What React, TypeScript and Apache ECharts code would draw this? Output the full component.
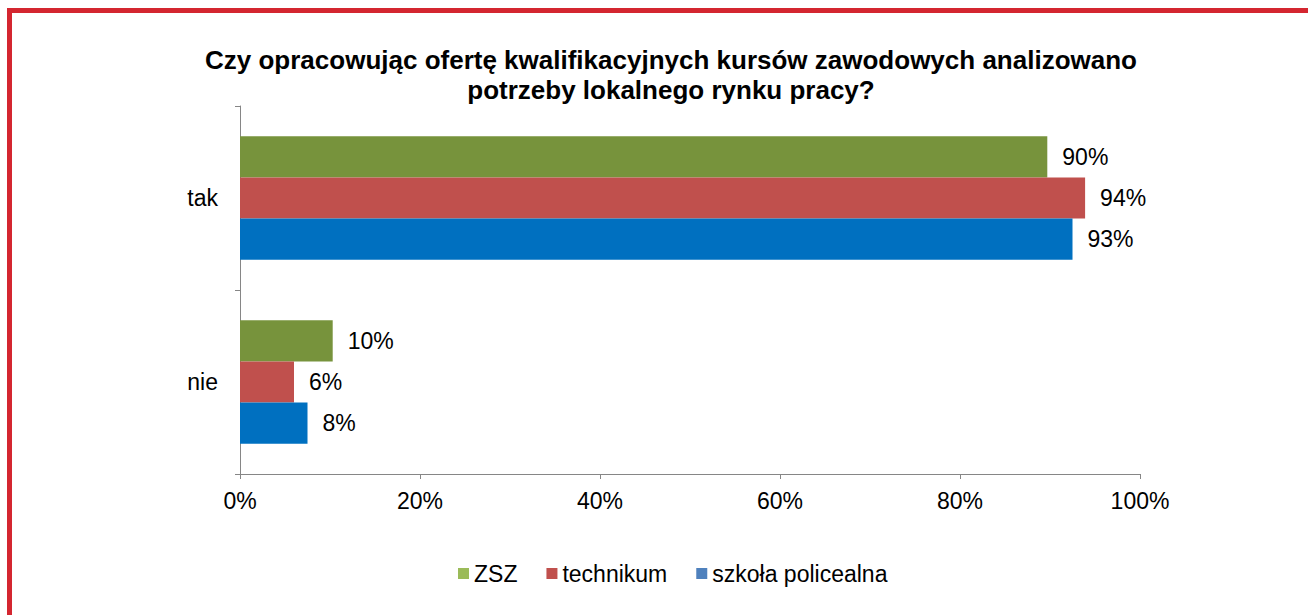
import React, { useEffect, useRef } from "react";
import * as echarts from "echarts";

const titleLines = [
  "Czy opracowując ofertę kwalifikacyjnych kursów zawodowych analizowano",
  "potrzeby lokalnego rynku pracy?",
];
const categories = ["tak", "nie"];
const seriesNames = ["ZSZ", "technikum", "szkoła policealna"];
const zsz = [89.7, 10.3];
const technikum = [93.9, 6.0];
const policealna = [92.5, 7.5];
const barColors = ["#77933C", "#C0504D", "#0070C0"];
const legendColors = ["#9BBB59", "#C0504D", "#4F81BD"];
const xTicks = [0, 20, 40, 60, 80, 100];

export default function App() {
  const ref = useRef<HTMLDivElement>(null);
  useEffect(() => {
    if (!ref.current) return;
    const chart = echarts.init(ref.current, null, { renderer: "svg" });
    const font = "'Liberation Sans', Arial, sans-serif";
    const values = [zsz, technikum, policealna];
    chart.setOption({
      animation: false,
      backgroundColor: "#ffffff",
      textStyle: { fontFamily: font },
      graphic: [
        { type: "rect", shape: { x: 7, y: 8, width: 1301, height: 5 }, style: { fill: "#D42630" } },
        { type: "rect", shape: { x: 7, y: 8, width: 5, height: 607 }, style: { fill: "#D42630" } },
        {
          type: "text",
          x: 671,
          y: 45,
          style: {
            text: titleLines.join("\n"),
            textAlign: "center",
            fontFamily: font,
            fontSize: 26,
            fontWeight: "bold",
            lineHeight: 30,
            fill: "#000",
          },
        },
      ],
      legend: {
        left: 453,
        top: 557,
        itemWidth: 11,
        itemHeight: 11,
        itemGap: 29,
        icon: "rect",
        textStyle: { fontSize: 23, color: "#000", fontFamily: font },
        data: seriesNames.map((n, i) => ({ name: n, itemStyle: { color: legendColors[i] } })),
      },
      grid: { left: 240, right: 168, top: 106, bottom: 141, containLabel: false },
      xAxis: {
        type: "value",
        min: xTicks[0],
        max: xTicks[xTicks.length - 1],
        interval: 20,
        axisLine: { show: true, lineStyle: { color: "#868686", width: 1 } },
        axisTick: { show: true, length: 5, lineStyle: { color: "#868686" } },
        splitLine: { show: false },
        axisLabel: { formatter: "{value}%", fontSize: 23, color: "#000", margin: 15, fontFamily: font },
      },
      yAxis: {
        type: "category",
        inverse: true,
        data: categories,
        axisLine: { show: true, lineStyle: { color: "#868686", width: 1 } },
        axisTick: { show: true, length: 5, lineStyle: { color: "#868686" } },
        axisLabel: { fontSize: 23, color: "#000", margin: 22, fontFamily: font },
      },
      series: seriesNames.map((n, i) => ({
        name: n,
        type: "bar",
        data: values[i],
        barGap: "0%",
        barCategoryGap: "33%",
        itemStyle: { color: barColors[i] },
        label: {
          show: true,
          position: "right",
          distance: 15,
          fontSize: 23,
          color: "#000",
          fontFamily: font,
          formatter: (p: any) => Math.round(p.value) + "%",
        },
      })),
    });
    return () => chart.dispose();
  }, []);
  return (
    <div
      ref={ref}
      style={{ position: "fixed", left: 0, top: 0, width: 1308, height: 615, background: "#fff" }}
    />
  );
}
